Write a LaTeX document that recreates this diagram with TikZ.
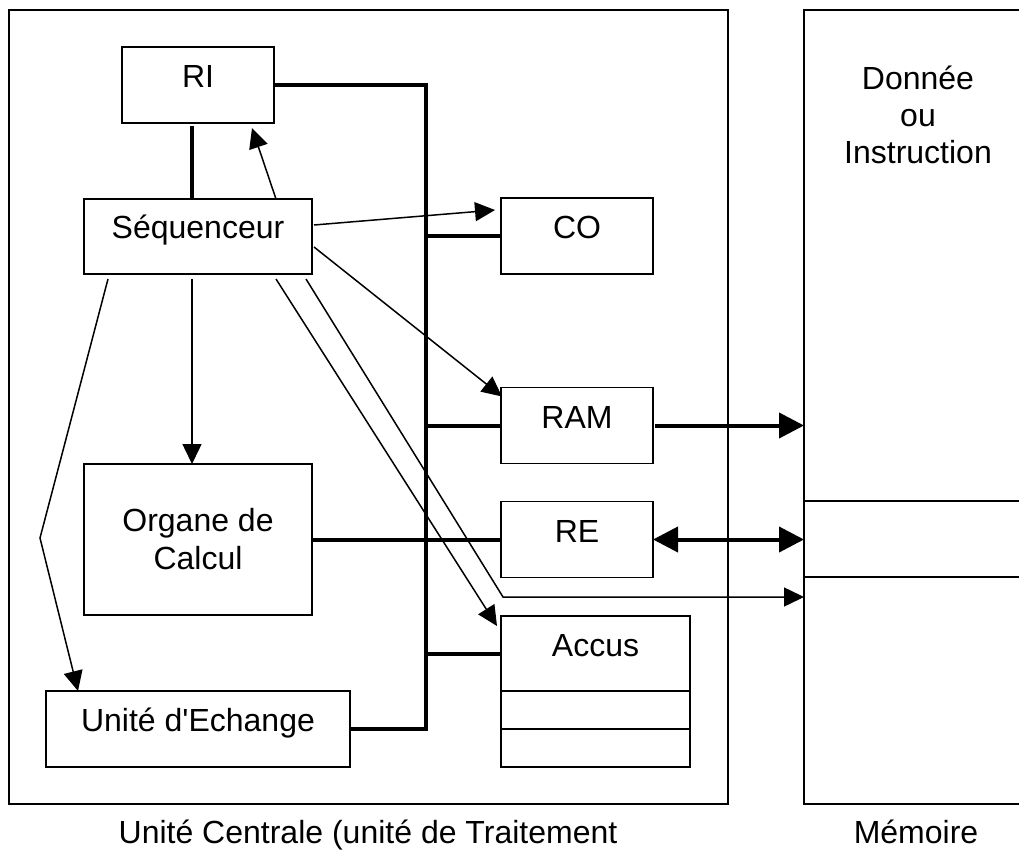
\documentclass[tikz,border=0pt]{standalone}
\usepackage{fontspec}
\setmainfont{Liberation Sans}
\usetikzlibrary{calc, arrows.meta, positioning}

\tikzset{
        boite/.style={draw, line width=1.4pt, inner sep=0pt, outer sep=0pt},
        bloc/.style={boite, minimum width=152pt, minimum height=76pt, text height=24pt, text depth=19pt},
        vide/.style={boite, text height=0pt, text depth=0pt},
        bus/.style={line width=4pt},
        fleche/.style={line width=1.5pt, -{Triangle[length=20pt,width=19pt]}},
        grosse/.style={line width=4pt, -{Triangle[length=25pt,width=25pt]}},
        grossedouble/.style={line width=4pt, {Triangle[length=25pt,width=25pt]}-{Triangle[length=25pt,width=25pt]}}
}

\begin{document}
\begin{tikzpicture}[x=1pt, y=-1pt, font=\fontsize{32}{38}\selectfont]
        \useasboundingbox (0,0) rectangle (1019,850);
        \clip (0,0) rectangle (1019,850);

        % cadres
        \node[vide, minimum width=719pt, minimum height=794pt] (uc) at (368.5,407) {};
        \node[vide, minimum width=236pt, minimum height=794pt] (mem) at (922,407) {};
        \draw[line width=1.4pt] (mem.west) ++(0,94) -- ++(236,0);
        \draw[line width=1.4pt] (mem.west) ++(0,170) -- ++(236,0);
        \node[align=center, font=\fontsize{32}{37}\selectfont] (donnee) at (918,115) {Donnée\\ou\\Instruction};

        % blocs
        \node[bloc] (ri) at (198,85) {RI};
        \node[bloc, minimum width=228pt, minimum height=75pt] (seq) at (198,236.5) {Séquenceur};
        \node[bloc] (co) at (577,236) {CO};
        \node[bloc] (ram) at (577,425.5) {RAM};
        \node[bloc] (re) at (577,539.5) {RE};
        \node[bloc, minimum width=189pt, minimum height=75pt] (accus) at (595.5,653.5) {Accus};
        \node[vide, minimum width=189pt, minimum height=38pt, below=0pt of accus] (accun) {};
        \node[vide, minimum width=189pt, minimum height=38pt, below=0pt of accun] (accdeux) {};
        \node[boite, minimum width=228pt, minimum height=151pt, align=center] (orga) at (198,539.5) {Organe de\\Calcul};
        \node[bloc, minimum width=304pt] (ue) at (198,729) {Unité d\textquotesingle Echange};

        \node[anchor=base] (uclabel) at (368,843) {Unité Centrale (unité de Traitement};
        \node[anchor=base] (memlabel) at (916,843) {Mémoire};

        % bus
        \coordinate (busbas) at ($(ue.east)+(76,0)$);
        \draw[bus] (ri.east) -| (busbas) -- (ue.east);
        \draw[bus] (co.west -| busbas) -- (co.west);
        \draw[bus] (ram.west -| busbas) -- (ram.west);
        \draw[bus] (accus.west -| busbas) -- (accus.west);
        \draw[bus] (orga.east) -- (re.west);
        \draw[bus] ([xshift=-6pt,yshift=-3pt]ri.south) -- ([xshift=-6pt]seq.north);

        % commandes du sequenceur
        \coordinate (coude) at (40,538);
        \coordinate (virage) at (503,597);
        \draw[fleche] ([xshift=78pt]seq.north) -- ([xshift=54pt,yshift=-5pt]ri.south);
        \draw[fleche] ([xshift=2pt,yshift=11.5pt]seq.east) -- ([xshift=-6pt,yshift=26pt]co.west);
        \draw[fleche] ([xshift=2pt,yshift=-10.5pt]seq.east) -- ([xshift=1pt,yshift=-9pt]ram.north west);
        \draw[fleche] ([xshift=-6pt,yshift=-5pt]seq.south) -- ([xshift=-6pt]orga.north);
        \draw[fleche] ([xshift=-90pt,yshift=-5pt]seq.south) -- (coude) -- ([xshift=-120pt]ue.north);
        \draw[fleche] ([xshift=78pt,yshift=-5pt]seq.south) -- ([xshift=-4pt,yshift=-10pt]accus.north west);
        \draw[fleche] ([xshift=108pt,yshift=-5pt]seq.south) -- (virage) -- (virage -| mem.west);

        % vers la memoire
        \draw[grosse] ([xshift=2pt]ram.east) -- (ram.east -| mem.west);
        \draw[grossedouble] (re.east) -- (re.east -| mem.west);
\end{tikzpicture}
\end{document}
